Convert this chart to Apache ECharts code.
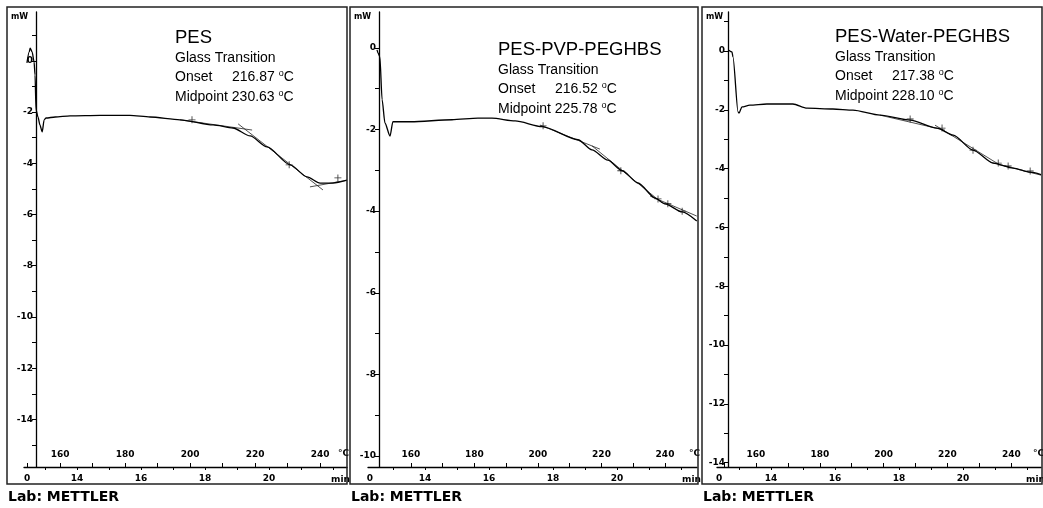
<!DOCTYPE html>
<html>
<head>
<meta charset="utf-8">
<script src="https://cdn.jsdelivr.net/npm/echarts@6/dist/echarts.min.js"></script>
<style>
html,body{margin:0;padding:0;background:#fff;}
#chart{width:1043px;height:508px;}
</style>
</head>
<body>
<div id="chart"></div>
<script>
// DSC curves, [temperature degC, heat flow mW]
var pesCurve = [[149.8,-0.08],[150.5,0.35],[150.8,0.5],[151.4,0.35],[152.0,-0.04],[152.3,-0.55],[152.6,-1.91],
  [153.2,-2.19],[153.8,-2.5],[154.5,-2.77],[155.1,-2.3],[155.7,-2.23],[158.5,-2.19],[163.1,-2.15],[172.3,-2.13],
  [181.5,-2.13],[187.7,-2.19],[196.9,-2.30],[207.1,-2.5],[213.2,-2.62],[218.5,-2.93],[223.7,-3.36],[230.8,-4.06],
  [236.0,-4.53],[240.0,-4.77],[244.0,-4.77],[248.3,-4.66]];
var pvpCurve = [[149.3,-0.05],[149.6,-0.12],[150.2,-0.22],[150.9,-1.27],[151.8,-1.84],[153.4,-2.16],[154.3,-1.81],
  [160.0,-1.81],[172.9,-1.76],[181.1,-1.72],[185.5,-1.72],[192.8,-1.79],[201.3,-1.93],[212.6,-2.25],[217.0,-2.5],
  [222.0,-2.75],[226.5,-3.01],[231.5,-3.31],[236.9,-3.68],[240.0,-3.82],[245.4,-4.02],[250.0,-4.24]];
var waterCurve = [[151.5,0.03],[152.5,-0.03],[152.8,-0.2],[154.4,-2.07],[154.7,-2.11],[155.6,-1.9],[158.1,-1.84],
  [163.4,-1.8],[171.6,-1.8],[176.0,-1.94],[184.1,-1.97],[190.4,-2.01],[198.9,-2.18],[208.3,-2.35],[216.7,-2.62],
  [221.8,-2.86],[228.0,-3.37],[234.3,-3.81],[240.6,-3.98],[245.9,-4.12],[249.3,-4.2]];

// tangent constructions [[start],[end]]
var pesTangents = [[[196.9,-2.30],[219.1,-2.70]],[[214.8,-2.46],[240.9,-5.04]],[[236.9,-4.92],[248.3,-4.66]]];
var pvpTangents = [[[200.6,-1.89],[219.5,-2.48]],[[217.0,-2.40],[239.1,-3.80]],[[235.3,-3.63],[250.0,-4.12]]];
var waterTangents = [[[198.9,-2.18],[219.2,-2.69]],[[216.1,-2.52],[236.5,-3.88]],[[233.4,-3.78],[249.3,-4.22]]];

// evaluation marks
var pesMarks = [[200.6,-2.30],[230.5,-4.06],[245.5,-4.57]];
var pvpMarks = [[201.6,-1.91],[226.1,-3.01],[237.8,-3.70],[240.9,-3.82],[245.4,-4.0]];
var waterMarks = [[208.3,-2.31],[218.3,-2.62],[228.0,-3.37],[235.9,-3.81],[239.0,-3.91],[245.9,-4.08]];

// axis labels
var tempLabels = [160,180,200,220,240];
var tempTicks = [150,160,170,180,190,200,210,220,230,240];
var timeLabels = [14,16,18,20];
var timeTicks = [13,14,15,16,17,18,19,20,21,22];
var yLabelsPES = [0,-2,-4,-6,-8,-10,-12,-14];
var yTicksPES = [1,0,-1,-2,-3,-4,-5,-6,-7,-8,-9,-10,-11,-12,-13,-14,-15];
var yLabelsPVP = [0,-2,-4,-6,-8,-10];
var yTicksPVP = [0,-1,-2,-3,-4,-5,-6,-7,-8,-9,-10];
var yLabelsWater = [0,-2,-4,-6,-8,-10,-12,-14];
var yTicksWater = [1,0,-1,-2,-3,-4,-5,-6,-7,-8,-9,-10,-11,-12,-13,-14];

var titles = ['PES','PES-PVP-PEGHBS','PES-Water-PEGHBS'];
var onsets = ['216.87','216.52','217.38'];
var midpoints = ['230.63','225.78','228.10'];

var panels = [
  {curve:pesCurve, tangents:pesTangents, marks:pesMarks, yLabels:yLabelsPES, yTicks:yTicksPES, time0:12.44,
   left:24, right:347, tMin:148.9, tMax:248.3, sMin:12.34, sMax:22.44, vMin:-15.86, vMax:1.91, yOff:-12,
   frameX:7, frameW:340, tx:175, ty:38},
  {curve:pvpCurve, tangents:pvpTangents, marks:pvpMarks, yLabels:yLabelsPVP, yTicks:yTicksPVP, time0:12.28,
   left:368, right:697, tMin:146.46, tMax:250.08, sMin:12.22, sMax:22.5, vMin:-10.27, vMax:0.88, yOff:-11,
   frameX:350, frameW:348, tx:498, ty:50},
  {curve:waterCurve, tangents:waterTangents, marks:waterMarks, yLabels:yLabelsWater, yTicks:yTicksWater, time0:12.375,
   left:717, right:1041, tMin:147.8, tMax:249.3, sMin:12.31, sMax:22.44, vMin:-14.15, vMax:1.33, yOff:-11,
   frameX:702, frameW:340, tx:835, ty:37}
];

var pixFont = 'DejaVu Sans';
var textFont = 'Arial, "Liberation Sans", sans-serif';
var grids = [], xAxes = [], yAxes = [], series = [], graphics = [];

panels.forEach(function(p, i){
  grids.push({left:p.left, width:p.right - p.left, top:12, bottom:41});
  // temperature axis (labels above the line)
  xAxes.push({
    type:'value', gridIndex:i, position:'bottom', min:p.tMin, max:p.tMax,
    axisLine:{show:true, onZero:false, lineStyle:{color:'#000', width:1.3}},
    axisTick:{show:true, inside:true, length:4, customValues:tempTicks, lineStyle:{color:'#000'}},
    axisLabel:{inside:true, margin:8, customValues:tempLabels, color:'#000',
      fontFamily:pixFont, fontWeight:'bold', fontSize:9},
    splitLine:{show:false}
  });
  // time axis (labels below the line)
  xAxes.push({
    type:'value', gridIndex:i, position:'bottom', min:p.sMin, max:p.sMax,
    axisLine:{show:false, onZero:false},
    axisTick:{show:true, length:3, customValues:timeTicks, lineStyle:{color:'#000'}},
    axisLabel:{margin:7, customValues:[p.time0].concat(timeLabels), color:'#000',
      fontFamily:pixFont, fontWeight:'bold', fontSize:9,
      formatter:function(v){ return v < 13 ? '0' : String(v); }},
    splitLine:{show:false}
  });
  yAxes.push({
    type:'value', gridIndex:i, min:p.vMin, max:p.vMax, offset:p.yOff,
    axisLine:{show:true, onZero:false, lineStyle:{color:'#000', width:1.3}},
    axisTick:{show:true, length:4, customValues:p.yTicks, lineStyle:{color:'#000'}},
    axisLabel:{margin:3, customValues:p.yLabels, color:'#000',
      fontFamily:pixFont, fontWeight:'bold', fontSize:9},
    splitLine:{show:false}
  });
  series.push({
    type:'line', xAxisIndex:i*2, yAxisIndex:i, data:p.curve, showSymbol:false,
    smooth:0.25, smoothMonotone:'x', lineStyle:{color:'#000', width:1.3}, silent:true, z:3
  });
  p.tangents.forEach(function(seg){
    series.push({
      type:'line', xAxisIndex:i*2, yAxisIndex:i, data:seg, showSymbol:false,
      lineStyle:{color:'#222', width:0.8}, silent:true, z:2
    });
  });
  series.push({
    type:'scatter', xAxisIndex:i*2, yAxisIndex:i, data:p.marks,
    symbol:'path://M4.4,0H5.6V4.4H10V5.6H5.6V10H4.4V5.6H0V4.4H4.4Z', symbolSize:7,
    itemStyle:{color:'#000'}, silent:true, z:4
  });

  // frame, unit labels and annotation
  graphics.push({type:'rect', shape:{x:p.frameX, y:7, width:p.frameW, height:477},
    style:{fill:'none', stroke:'#222', lineWidth:1.5}, z:10});
  graphics.push({type:'text', x:p.frameX + 4, y:17,
    style:{text:'mW', font:'bold 8px ' + pixFont, fill:'#000', verticalAlign:'middle'}});
  graphics.push({type:'text', x:p.frameX + p.frameW - 9, y:454,
    style:{text:'°C', font:'bold 9px ' + pixFont, fill:'#000', verticalAlign:'middle'}});
  graphics.push({type:'text', x:p.frameX + p.frameW - 16, y:480,
    style:{text:'min', font:'bold 9px ' + pixFont, fill:'#000', verticalAlign:'middle'}});
  graphics.push({type:'text', x:p.frameX + 1, y:497,
    style:{text:'Lab: METTLER', font:'bold 14px ' + pixFont, fill:'#000', verticalAlign:'middle'}});

  var rich = {s:{fontSize:9, fontFamily:textFont, padding:[0,0,7,0]}};
  graphics.push({type:'text', x:p.tx, y:p.ty,
    style:{text:titles[i], font:'18.5px ' + textFont, fill:'#000', verticalAlign:'middle'}});
  graphics.push({type:'text', x:p.tx, y:p.ty + 20,
    style:{text:'Glass Transition', font:'14px ' + textFont, fill:'#000', verticalAlign:'middle'}});
  graphics.push({type:'text', x:p.tx, y:p.ty + 39,
    style:{text:'Onset', font:'14px ' + textFont, fill:'#000', verticalAlign:'middle'}});
  graphics.push({type:'text', x:p.tx + 57, y:p.ty + 39,
    style:{text:onsets[i] + ' {s|o}C', font:'14px ' + textFont, fill:'#000', verticalAlign:'middle', rich:rich}});
  graphics.push({type:'text', x:p.tx, y:p.ty + 59,
    style:{text:'Midpoint ' + midpoints[i] + ' {s|o}C', font:'14px ' + textFont, fill:'#000', verticalAlign:'middle', rich:rich}});
});

var chart = echarts.init(document.getElementById('chart'));
chart.setOption({
  animation:false,
  backgroundColor:'#fff',
  grid:grids,
  xAxis:xAxes,
  yAxis:yAxes,
  series:series,
  graphic:graphics
});
</script>
</body>
</html>
